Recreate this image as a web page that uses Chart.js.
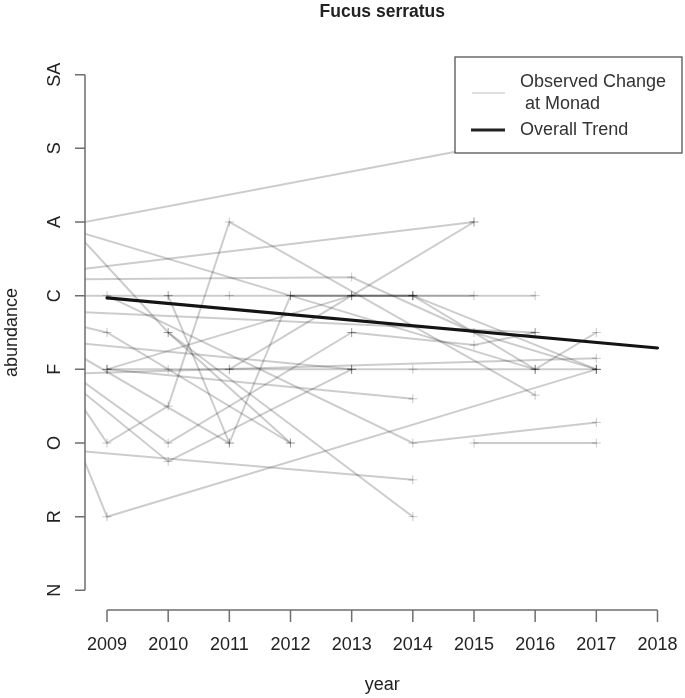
<!DOCTYPE html>
<html>
<head>
<meta charset="utf-8">
<script src="https://cdn.jsdelivr.net/npm/chart.js@4.4.1/dist/chart.umd.min.js"></script>
<style>
    html, body { margin: 0; padding: 0; background: #fff; }
    #wrap { width: 685px; height: 698px; position: relative; }
</style>
</head>
<body>
<div id="wrap"><canvas id="chartFucus"></canvas></div>
<script>
// ===== data
const abundanceLabels = ["N", "R", "O", "F", "C", "A", "S", "SA"];
const xTickYears = [2009, 2010, 2011, 2012, 2013, 2014, 2015, 2016, 2017, 2018];

// one entry per monad: survey years and abundance codes (0 = N ... 7 = SA)
// 2008 points start before the plotted range and are clipped at the axis
const monadYears = [
    [2008, 2015],
    [2008, 2016],
    [2008, 2010, 2012],
    [2008, 2015],
    [2011, 2013, 2015],
    [2008, 2013, 2015, 2017],
    [2008, 2010, 2011, 2014, 2015],
    [2013, 2016],
    [2008, 2009, 2017],
    [2008, 2009, 2010, 2011, 2016],
    [2010, 2011, 2012, 2014],
    [2009, 2014, 2017],
    [2015, 2017],
    [2008, 2014],
    [2008, 2009, 2012],
    [2010, 2014],
    [2009, 2014],
    [2009, 2013],
    [2009, 2010, 2011, 2013, 2014, 2016, 2017],
    [2008, 2010, 2013],
    [2008, 2010, 2013],
    [2008, 2017],
    [2008, 2016],
    [2012, 2014, 2016, 2017],
    [2014, 2017],
    [2013, 2015, 2016],
    [2008, 2011],
    [2008, 2013],
];
const monadValues = [
    [4.9, 6],
    [5.0, 3],
    [5.3, 3.5, 2],
    [4.3, 5],
    [3, 4, 5],
    [4.22, 4.25, 3.5, 3],
    [4, 4, 4, 4, 4],
    [4, 4],
    [3.05, 1, 3],
    [3.24, 2, 2.5, 5, 2.65],
    [4, 2, 4, 4],
    [4, 2, 2.28],
    [2, 2],
    [1.93, 1.5],
    [3.7, 3.5, 2],
    [3.5, 1],
    [3, 2.6],
    [3, 4],
    [3, 3, 3, 3, 3, 3, 3],
    [3.1, 1.75, 3],
    [3.2, 2, 3.5],
    [2.93, 3.15],
    [3.8, 3.5],
    [4, 4, 3, 3.5],
    [4, 3],
    [3.5, 3.33, 3.5],
    [3.45, 2],
    [3.4, 3],
];

const trendYears = [2009, 2018];
const trendValues = [3.97, 3.29];

const FONT = "'Liberation Sans', Arial, sans-serif";
const AXIS_GREY = "#6e6e6e";

// ===== datasets
const toPoints = (xs, ys) => xs.map((x, i) => ({ x, y: ys[i] }));

const monadSets = monadYears.map((yrs, i) => ({
    label: "Observed Change at Monad",
    data: toPoints(yrs, monadValues[i]),
    borderColor: "rgba(0,0,0,0.2)",
    borderWidth: 2,
    pointStyle: "cross",
    pointRadius: 4.5,
    pointBorderWidth: 1,
    pointBorderColor: "rgba(0,0,0,0.22)",
    pointHoverRadius: 4.5,
    tension: 0,
    clip: 0,
    order: 1,
}));

const trendSet = {
    label: "Overall Trend",
    data: toPoints(trendYears, trendValues),
    borderColor: "#141414",
    borderWidth: 3.2,
    pointRadius: 0,
    borderCapStyle: "round",
    tension: 0,
    clip: 0,
    order: 0,
};

// ===== R-style axes, title and legend drawn from the scales
const basePlot = {
    id: "basePlot",
    afterDraw(chart) {
        const { ctx, chartArea, scales } = chart;
        const xs = scales.x;
        const ys = scales.y;
        ctx.save();
        ctx.strokeStyle = AXIS_GREY;
        ctx.fillStyle = "#222";
        ctx.lineWidth = 1.5;

        // y axis
        const yTop = ys.getPixelForValue(abundanceLabels.length - 1);
        const yBot = ys.getPixelForValue(0);
        const ax = chartArea.left;
        ctx.beginPath();
        ctx.moveTo(ax, yTop);
        ctx.lineTo(ax, yBot);
        abundanceLabels.forEach((_, i) => {
            const p = ys.getPixelForValue(i);
            ctx.moveTo(ax, p);
            ctx.lineTo(ax - 10, p);
        });
        ctx.stroke();

        ctx.font = "18px " + FONT;
        ctx.textAlign = "center";
        ctx.textBaseline = "middle";
        abundanceLabels.forEach((lab, i) => {
            const p = ys.getPixelForValue(i);
            ctx.save();
            ctx.translate(55, p);
            ctx.rotate(-Math.PI / 2);
            ctx.fillText(lab, 0, 0);
            ctx.restore();
        });

        // x axis
        const xAxisY = chartArea.bottom - 1;
        const x0 = xs.getPixelForValue(xTickYears[0]);
        const x1 = xs.getPixelForValue(xTickYears[xTickYears.length - 1]);
        ctx.beginPath();
        ctx.moveTo(x0, xAxisY);
        ctx.lineTo(x1, xAxisY);
        xTickYears.forEach((yr) => {
            const p = xs.getPixelForValue(yr);
            ctx.moveTo(p, xAxisY);
            ctx.lineTo(p, xAxisY + 12);
        });
        ctx.stroke();
        xTickYears.forEach((yr) => {
            ctx.fillText(String(yr), xs.getPixelForValue(yr), 645);
        });

        // axis titles
        const midX = (chartArea.left + chartArea.right) / 2;
        const midY = (chartArea.top + chartArea.bottom) / 2;
        ctx.fillText("year", midX, 685);
        ctx.save();
        ctx.translate(12, midY);
        ctx.rotate(-Math.PI / 2);
        ctx.fillText("abundance", 0, 0);
        ctx.restore();

        // main title
        ctx.font = "bold 17.5px " + FONT;
        ctx.fillText("Fucus serratus", midX, 12);

        // legend
        const lx = 455, ly = 57, lw = 227, lh = 96;
        ctx.fillStyle = "#fff";
        ctx.fillRect(lx, ly, lw, lh);
        ctx.strokeStyle = "#555";
        ctx.lineWidth = 1.3;
        ctx.strokeRect(lx, ly, lw, lh);

        ctx.lineWidth = 1.6;
        ctx.strokeStyle = "#d4d4d4";
        ctx.beginPath();
        ctx.moveTo(472, 93);
        ctx.lineTo(505, 93);
        ctx.stroke();
        ctx.lineWidth = 3;
        ctx.strokeStyle = "#222";
        ctx.beginPath();
        ctx.moveTo(471, 130);
        ctx.lineTo(505, 130);
        ctx.stroke();

        ctx.fillStyle = "#333";
        ctx.font = "18px " + FONT;
        ctx.textAlign = "left";
        ctx.fillText("Observed Change", 520, 82);
        ctx.fillText(" at Monad", 520, 104);
        ctx.fillText("Overall Trend", 520, 130);
        ctx.restore();
    },
};

// ===== chart
const el = document.getElementById("chartFucus");
new Chart(el, {
    type: "line",
    data: { datasets: [trendSet, ...monadSets] },
    options: {
        responsive: true,
        maintainAspectRatio: false,
        animation: false,
        parsing: true,
        layout: { padding: { left: 85, right: 1, top: 54, bottom: 87 } },
        scales: {
            x: { type: "linear", min: 2008.64, max: 2018.36, display: false },
            y: { type: "linear", min: -0.28, max: 7.28, display: false },
        },
        plugins: {
            legend: { display: false },
            tooltip: { enabled: false },
        },
        events: [],
    },
    plugins: [basePlot],
});
</script>
</body>
</html>
